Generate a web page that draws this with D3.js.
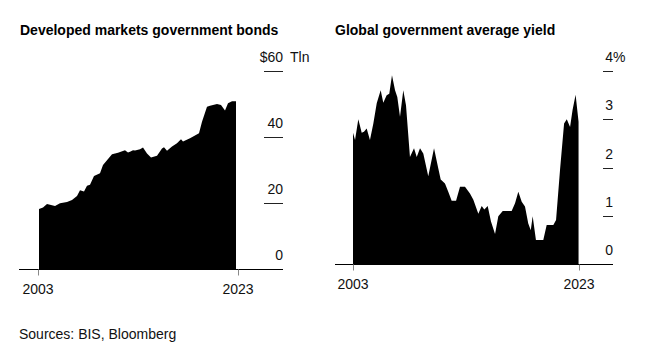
<!DOCTYPE html>
<html>
<head>
<meta charset="utf-8">
<script src="https://cdn.jsdelivr.net/npm/d3@7"></script>
<style>
  html, body { margin: 0; padding: 0; background: #fff; }
  svg { display: block; font-family: "Liberation Sans", Arial, Helvetica, sans-serif; }
</style>
</head>
<body>
<svg id="chart" width="663" height="363"></svg>
<script>
// ---- Data ----
const titles = ["Developed markets government bonds", "Global government average yield"];
const xTickLabels = [2003, 2023];

const bondYears = [2003.1, 2003.5, 2003.9, 2004.7, 2005.2, 2005.9, 2006.4, 2006.9, 2007.2, 2007.6,
  2007.9, 2008.2, 2008.6, 2009.2, 2009.5, 2010.4, 2011.0, 2011.7, 2012.0, 2012.2, 2012.5, 2012.7,
  2013.2, 2013.5, 2013.9, 2014.3, 2014.9, 2015.4, 2015.6, 2015.9, 2016.4, 2016.9, 2017.3, 2017.5,
  2018.2, 2019.1, 2019.4, 2019.9, 2020.2, 2020.5, 2020.9, 2021.3, 2021.7, 2022.0, 2022.4, 2022.8];
const bondValues = [18.2, 18.6, 19.7, 19.1, 19.9, 20.3, 20.9, 22.1, 23.9, 23.5,
  25.2, 25.5, 28.2, 29.0, 31.5, 34.8, 35.2, 36.0, 35.3, 35.5, 36.0, 35.9,
  36.3, 36.8, 35.0, 33.8, 34.3, 36.5, 36.9, 35.8, 37.1, 38.1, 39.3, 38.6,
  39.6, 41.1, 44.6, 49.2, 49.5, 49.7, 50.0, 49.7, 48.0, 50.2, 50.8, 50.8];
const bondTicks = [0, 20, 40, 60];
const bondTopLabel = ["$60", "Tln"];

const yieldYears = [2003.0, 2003.18, 2003.47, 2003.77, 2003.97, 2004.21, 2004.5, 2004.8, 2005.1, 2005.45,
  2005.68, 2005.98, 2006.21, 2006.45, 2006.72, 2006.92, 2007.16, 2007.45, 2007.69, 2008.04,
  2008.4, 2008.64, 2008.93, 2009.22, 2009.66, 2010.17, 2010.55, 2010.76, 2011.14, 2011.43,
  2011.73, 2012.12, 2012.47, 2012.91, 2013.35, 2013.65, 2014.09, 2014.39, 2014.62, 2014.92,
  2015.21, 2015.57, 2015.86, 2016.25, 2017.04, 2017.34, 2017.63, 2017.93, 2018.22, 2018.51,
  2018.73, 2018.9, 2019.19, 2019.84, 2020.14, 2020.73, 2020.97, 2021.32, 2021.68, 2021.92,
  2022.21, 2022.43, 2022.7, 2022.96];
const yieldValues = [2.72, 2.57, 3.0, 2.72, 2.74, 2.81, 2.57, 2.91, 3.33, 3.6,
  3.34, 3.5, 3.53, 3.91, 3.6, 3.46, 3.05, 3.6, 3.29, 2.22,
  2.4, 2.22, 2.4, 2.29, 1.82, 2.4, 1.98, 1.75, 1.67, 1.5,
  1.31, 1.31, 1.6, 1.6, 1.46, 1.33, 1.04, 1.2, 1.13, 1.2,
  0.88, 0.62, 0.99, 1.1, 1.1, 1.26, 1.5, 1.29, 1.19, 0.84,
  0.7, 0.99, 0.5, 0.5, 0.81, 0.81, 0.91, 1.95, 2.91, 3.0,
  2.84, 3.19, 3.51, 2.95];
const yieldTicks = [0, 1, 2, 3, 4];
const yieldTopLabel = ["4", "%"];

const source = "Sources: BIS, Bloomberg";

// ---- Drawing ----
const svg = d3.select("#chart");

function panel(cfg) {
  const x = d3.scaleLinear().domain([2003, 2023]).range([cfg.x0, cfg.x1]);
  const y = d3.scaleLinear().domain([0, cfg.ticks[cfg.ticks.length - 1]]).range([cfg.base, 71]);
  const g = svg.append("g");

  g.append("text").attr("x", cfg.titleX).attr("y", 35)
    .attr("font-size", 14).attr("font-weight", "bold").attr("fill", "#000")
    .text(cfg.title);

  const data = cfg.years.map((yr, i) => ({ t: yr, v: cfg.values[i] }));
  const area = d3.area().x(d => x(d.t)).y0(y(0)).y1(d => y(d.v)).curve(d3.curveLinear);
  g.append("path").datum(data).attr("d", area).attr("fill", "#000");

  // y ticks (short lines on the right with labels above)
  cfg.ticks.forEach((t, i) => {
    const yy = Math.round(y(t)) + 0.5;
    if (t !== 0) {
      g.append("line").attr("x1", cfg.labX - cfg.tickLen).attr("x2", cfg.labX)
        .attr("y1", yy).attr("y2", yy).attr("stroke", "#222").attr("stroke-width", 1);
    }
    const isTop = i === cfg.ticks.length - 1;
    const txt = g.append("text").attr("x", cfg.labX).attr("y", y(t) - 9)
      .attr("text-anchor", "end").attr("font-size", 14).attr("fill", "#111")
      .text(isTop ? cfg.topLabel[0] : String(t));
    if (isTop) {
      g.append("text").attr("x", cfg.labX + cfg.unitGap).attr("y", y(t) - 9)
        .attr("font-size", 14).attr("fill", "#111").text(cfg.topLabel[1]);
    }
  });

  // baseline
  const by = Math.round(cfg.base) + 0.5;
  g.append("line").attr("x1", cfg.axisL).attr("x2", cfg.labX)
    .attr("y1", by).attr("y2", by).attr("stroke", "#000").attr("stroke-width", 1);

  // x ticks
  xTickLabels.forEach(yr => {
    const xx = Math.round(x(yr)) + 0.5;
    g.append("line").attr("x1", xx).attr("x2", xx).attr("y1", by).attr("y2", by + 6)
      .attr("stroke", "#888").attr("stroke-width", 1);
    g.append("text").attr("x", x(yr)).attr("y", cfg.base + 25)
      .attr("text-anchor", "middle").attr("font-size", 14).attr("fill", "#111")
      .text(String(yr));
  });
}

panel({ title: titles[0], titleX: 20, x0: 38, x1: 238, base: 269, axisL: 19, labX: 283, tickLen: 19,
  unitGap: 7, ticks: bondTicks, topLabel: bondTopLabel, years: bondYears, values: bondValues });
panel({ title: titles[1], titleX: 335, x0: 353, x1: 579, base: 264, axisL: 335, labX: 613, tickLen: 10,
  unitGap: 0, ticks: yieldTicks, topLabel: yieldTopLabel, years: yieldYears, values: yieldValues });

svg.append("text").attr("x", 19).attr("y", 339).attr("font-size", 14).attr("fill", "#111").text(source);
</script>
</body>
</html>
